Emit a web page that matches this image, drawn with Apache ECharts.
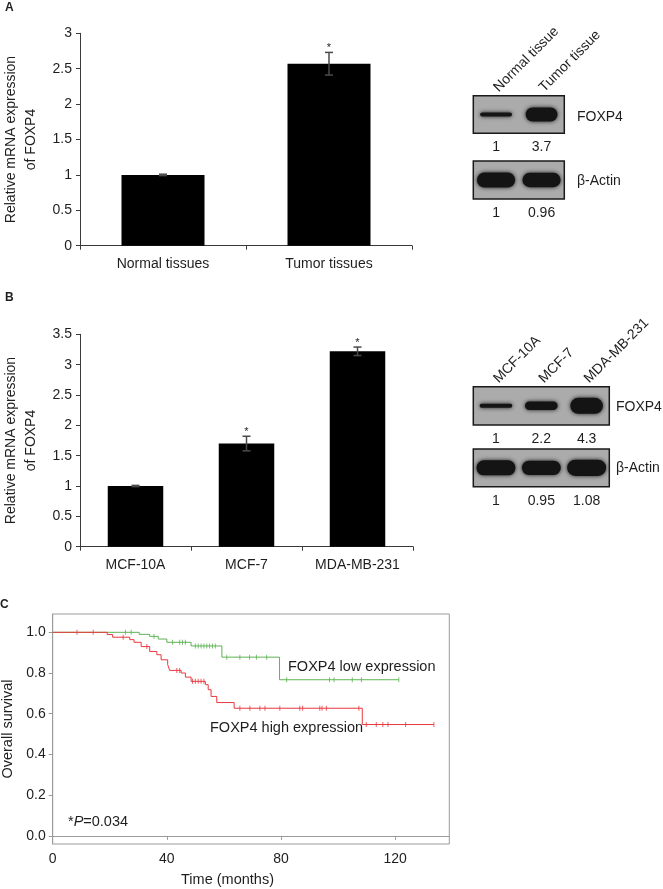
<!DOCTYPE html>
<html><head><meta charset="utf-8">
<script src="https://cdn.jsdelivr.net/npm/echarts@6/dist/echarts.min.js"></script>
<style>html,body{margin:0;padding:0;background:#fff}#c{width:663px;height:889px}</style>
</head><body><div id="c"></div>
<script>
var FONT = 'Liberation Sans, Arial, Helvetica, sans-serif';
var TXT = '#1e1e1e';

// ---- Panel A: qPCR tissues ----
var catsA = ['Normal tissues', 'Tumor tissues'];
var meanA = [1.0, 2.57];
var errA  = [0.01, 0.16];
var sigA  = ['', '*'];

// ---- Panel B: qPCR cell lines ----
var catsB = ['MCF-10A', 'MCF-7', 'MDA-MB-231'];
var meanB = [1.0, 1.70, 3.22];
var errB  = [0.01, 0.12, 0.07];
var sigB  = ['', '*', '*'];

// ---- Western blots ----
var lanesA  = ['Normal tissue', 'Tumor tissue'];
var foxp4A  = [1, 3.7];
var actinA  = [1, 0.96];
var lanesB  = ['MCF-10A', 'MCF-7', 'MDA-MB-231'];
var foxp4B  = [1, 2.2, 4.3];
var actinB  = [1, 0.95, 1.08];

// ---- Panel C: Kaplan-Meier ----
var lowTimes  = [0, 30.3, 34, 37, 40, 48.5, 59.3, 79.5, 121.3];
var lowSurv   = [1.0, 0.99, 0.98, 0.967, 0.951, 0.933, 0.878, 0.767, 0.767];
var lowCensor = [25.5, 27.5, 35.5, 42, 44.5, 45.5, 46.5, 50, 51, 52, 53, 54, 55, 56, 57, 61, 65.6, 69, 71.4, 75, 82, 97, 98.6, 105, 108.2, 121.3];
var highTimes = [0, 19.1, 21, 27, 28.5, 31, 34, 36.5, 38, 40.3, 41, 45, 46.5, 48.5, 53.5, 54.5, 55.5, 57.5, 63.6, 108.5, 133.6];
var highSurv  = [1.0, 0.989, 0.976, 0.964, 0.951, 0.93, 0.906, 0.89, 0.865, 0.841, 0.813, 0.8, 0.78, 0.759, 0.743, 0.718, 0.685, 0.655, 0.627, 0.547, 0.547];
var highCensor = [8.5, 14.2, 24.7, 33, 43.5, 44.5, 49, 50, 51, 52, 53, 65.6, 69.1, 72.6, 74.4, 79.6, 86.6, 87.6, 93.6, 94.4, 95.9, 107.3, 109.9, 113.4, 115.7, 117.5, 123.7, 133.6];
var kmXTicks = [0, 40, 80, 120];
var kmYTicks = [0, 0.2, 0.4, 0.6, 0.8, 1.0];

function zip(a, b) { return a.map(function (v, i) { return [v, b[i]]; }); }
function survAt(times, surv, t) {
  var s = surv[0];
  for (var i = 0; i < times.length; i++) if (times[i] <= t) s = surv[i];
  return s;
}
function errData(mean, err) { return mean.map(function (m, i) { return [i, m - err[i], m + err[i]]; }); }

function errRender(sig) {
  return function (params, api) {
    var x = api.value(0), lo = api.value(1), hi = api.value(2);
    var pH = api.coord([x, hi]), pL = api.coord([x, lo]);
    var c = 4, st = { stroke: '#4a4a4a', lineWidth: 1.5 };
    var ch = [
      { type: 'line', shape: { x1: pH[0], y1: pH[1], x2: pL[0], y2: pL[1] }, style: st },
      { type: 'line', shape: { x1: pH[0] - c, y1: pH[1], x2: pH[0] + c, y2: pH[1] }, style: st },
      { type: 'line', shape: { x1: pL[0] - c, y1: pL[1], x2: pL[0] + c, y2: pL[1] }, style: st }
    ];
    if (sig[params.dataIndex]) {
      ch.push({ type: 'text', style: { text: sig[params.dataIndex], x: pH[0], y: pH[1] + 1, align: 'center', verticalAlign: 'bottom', font: '11px ' + FONT, fill: TXT } });
    }
    return { type: 'group', children: ch };
  };
}

function bandRender(widthFrac, thick) {
  return function (params, api) {
    var c = api.coord([api.value(0), 0.5]);
    var bw = api.size([1, 0])[0];
    var w = bw * widthFrac, h = thick(api.value(1));
    return {
      type: 'rect',
      shape: { x: c[0] - w / 2, y: c[1] - h / 2, width: w, height: h, r: h / 2 },
      style: { fill: '#141414', shadowBlur: 4, shadowColor: 'rgba(0,0,0,0.85)' }
    };
  };
}
var foxThick = function (v) { return 4 * Math.pow(v, 0.95); };
var actThick = function (v) { return 15 * v; };

var axLine = { show: true, lineStyle: { color: '#3a3a3a', width: 1 } };
var lbl = { fontFamily: FONT, fontSize: 14, color: TXT };

function blotX(grid, data, pos, rotate) {
  return {
    type: 'category', gridIndex: grid, data: data, position: pos,
    axisLine: { show: false }, axisTick: { show: false },
    axisLabel: { fontFamily: FONT, fontSize: 14, color: TXT, rotate: rotate || 0, margin: pos === 'top' ? 6 : 7, interval: 0, hideOverlap: false }
  };
}
function blotY(grid) { return { type: 'value', gridIndex: grid, min: 0, max: 1, show: false }; }
function blotGrid(left, top, width, height) {
  return { left: left, top: top, width: width, height: height, outerBoundsMode: 'none', containLabel: false,
    show: true, backgroundColor: '#ababab', borderColor: '#1a1a1a', borderWidth: 1.5 };
}
function laneData(vals) { return vals.map(function (v, i) { return [i, v]; }); }
function fmtNums(vals) { return vals.map(function (v) { return String(v); }); }

var option = {
  animation: false,
  backgroundColor: '#fff',
  textStyle: { fontFamily: FONT },
  grid: [
    { left: 80, top: 33.3, width: 332, height: 212.4, outerBoundsMode: 'none', containLabel: false },
    { left: 80, top: 334.3, width: 333, height: 212.4, outerBoundsMode: 'none', containLabel: false },
    { left: 52.7, top: 614, width: 396.6, height: 230, outerBoundsMode: 'none', containLabel: false,
      show: true, borderColor: '#9a9a9a', borderWidth: 1 },
    blotGrid(473.3, 95.7, 91, 37.6),
    blotGrid(473.3, 161, 91, 38),
    blotGrid(473.3, 386.7, 136, 38.3),
    blotGrid(473.3, 449, 136, 37.7)
  ],
  xAxis: [
    { type: 'category', gridIndex: 0, data: catsA, axisLine: axLine,
      axisTick: { show: true, length: 4, lineStyle: { color: '#3a3a3a' } },
      axisLabel: Object.assign({ margin: 11, interval: 0, hideOverlap: false }, lbl) },
    { type: 'category', gridIndex: 1, data: catsB, axisLine: axLine,
      axisTick: { show: true, length: 4, lineStyle: { color: '#3a3a3a' } },
      axisLabel: Object.assign({ margin: 11, interval: 0, hideOverlap: false }, lbl) },
    { type: 'value', gridIndex: 2, min: 0, max: 139,
      axisLine: { show: true, lineStyle: { color: '#9a9a9a' } },
      axisTick: { show: true, length: 4, lineStyle: { color: '#9a9a9a' }, customValues: kmXTicks },
      axisLabel: Object.assign({ margin: 8, customValues: kmXTicks }, lbl),
      splitLine: { show: false } },
    blotX(3, lanesA, 'top', 45),
    blotX(3, fmtNums(foxp4A), 'bottom'),
    blotX(4, fmtNums(actinA), 'bottom'),
    blotX(5, lanesB, 'top', 45),
    blotX(5, fmtNums(foxp4B), 'bottom'),
    blotX(6, fmtNums(actinB), 'bottom')
  ],
  yAxis: [
    { type: 'value', gridIndex: 0, min: 0, max: 3, interval: 0.5, axisLine: axLine,
      axisTick: { show: true, length: 4, lineStyle: { color: '#3a3a3a' } },
      axisLabel: Object.assign({ margin: 8 }, lbl), splitLine: { show: false },
      name: 'Relative mRNA expression\nof FOXP4', nameLocation: 'middle', nameGap: 36,
      nameTextStyle: { fontFamily: FONT, fontSize: 14, color: TXT, lineHeight: 20 } },
    { type: 'value', gridIndex: 1, min: 0, max: 3.5, interval: 0.5, axisLine: axLine,
      axisTick: { show: true, length: 4, lineStyle: { color: '#3a3a3a' } },
      axisLabel: Object.assign({ margin: 8 }, lbl), splitLine: { show: false },
      name: 'Relative mRNA expression\nof FOXP4', nameLocation: 'middle', nameGap: 36,
      nameTextStyle: { fontFamily: FONT, fontSize: 14, color: TXT, lineHeight: 20 } },
    { type: 'value', gridIndex: 2, min: -0.04, max: 1.09,
      axisLine: { show: true, lineStyle: { color: '#9a9a9a' } },
      axisTick: { show: true, length: 4, lineStyle: { color: '#9a9a9a' }, customValues: kmYTicks },
      axisLabel: Object.assign({ margin: 7, customValues: kmYTicks, formatter: function (v) { return v.toFixed(1); } }, lbl),
      splitLine: { show: false },
      name: 'Overall survival', nameLocation: 'middle', nameGap: 36,
      nameTextStyle: { fontFamily: FONT, fontSize: 14.5, color: TXT } },
    blotY(3), blotY(4), blotY(5), blotY(6)
  ],
  series: [
    { type: 'bar', xAxisIndex: 0, yAxisIndex: 0, data: meanA, barWidth: '50%', itemStyle: { color: '#000' } },
    { type: 'custom', xAxisIndex: 0, yAxisIndex: 0, data: errData(meanA, errA), renderItem: errRender(sigA), z: 5 },
    { type: 'bar', xAxisIndex: 1, yAxisIndex: 1, data: meanB, barWidth: '50%', itemStyle: { color: '#000' } },
    { type: 'custom', xAxisIndex: 1, yAxisIndex: 1, data: errData(meanB, errB), renderItem: errRender(sigB), z: 5 },
    { type: 'line', xAxisIndex: 2, yAxisIndex: 2, data: zip(lowTimes, lowSurv), step: 'end', showSymbol: false,
      lineStyle: { color: '#5fb255', width: 1 }, itemStyle: { color: '#5fb255' } },
    { type: 'line', xAxisIndex: 2, yAxisIndex: 2, data: zip(highTimes, highSurv), step: 'end', showSymbol: false,
      lineStyle: { color: '#e8383f', width: 1 }, itemStyle: { color: '#e8383f' } },
    { type: 'scatter', xAxisIndex: 2, yAxisIndex: 2, symbol: 'rect', symbolSize: [1, 5],
      data: lowCensor.map(function (t) { return [t, survAt(lowTimes, lowSurv, t)]; }), itemStyle: { color: '#5fb255' } },
    { type: 'scatter', xAxisIndex: 2, yAxisIndex: 2, symbol: 'rect', symbolSize: [1, 5],
      data: highCensor.map(function (t) { return [t, survAt(highTimes, highSurv, t)]; }), itemStyle: { color: '#e8383f' } },
    { type: 'custom', xAxisIndex: 3, yAxisIndex: 3, data: laneData(foxp4A), renderItem: bandRender(0.7, foxThick) },
    { type: 'custom', xAxisIndex: 5, yAxisIndex: 4, data: laneData(actinA), renderItem: bandRender(0.84, actThick) },
    { type: 'custom', xAxisIndex: 6, yAxisIndex: 5, data: laneData(foxp4B), renderItem: bandRender(0.72, foxThick) },
    { type: 'custom', xAxisIndex: 8, yAxisIndex: 6, data: laneData(actinB), renderItem: bandRender(0.86, actThick) }
  ],
  graphic: [
    { type: 'text', left: 5, top: 2, style: { text: 'A', font: 'bold 12px ' + FONT, fill: TXT } },
    { type: 'text', left: 5, top: 292, style: { text: 'B', font: 'bold 12px ' + FONT, fill: TXT } },
    { type: 'text', left: 0, top: 599, style: { text: 'C', font: 'bold 12px ' + FONT, fill: TXT } },
    { type: 'text', x: 577, y: 116.7, style: { text: 'FOXP4', font: '14px ' + FONT, fill: TXT, verticalAlign: 'middle' } },
    { type: 'text', x: 577, y: 181, style: { text: 'β-Actin', font: '14px ' + FONT, fill: TXT, verticalAlign: 'middle' } },
    { type: 'text', x: 616, y: 407.3, style: { text: 'FOXP4', font: '14px ' + FONT, fill: TXT, verticalAlign: 'middle' } },
    { type: 'text', x: 616, y: 468.3, style: { text: 'β-Actin', font: '14px ' + FONT, fill: TXT, verticalAlign: 'middle' } },
    { type: 'text', x: 288, y: 667.3, style: { text: 'FOXP4 low expression', font: '14.5px ' + FONT, fill: TXT, verticalAlign: 'middle' } },
    { type: 'text', x: 210, y: 728.3, style: { text: 'FOXP4 high expression', font: '14.5px ' + FONT, fill: TXT, verticalAlign: 'middle' } },
    { type: 'text', x: 68, y: 821.7, style: { text: '{a|*}{i|P}{a|=0.034}', verticalAlign: 'middle',
        rich: { a: { font: '14.5px ' + FONT, fill: TXT }, i: { font: 'italic 14.5px ' + FONT, fill: TXT } } } },
    { type: 'text', x: 227.5, y: 880, style: { text: 'Time (months)', font: '14.5px ' + FONT, fill: TXT, align: 'center', verticalAlign: 'middle' } }
  ]
};

var chart = echarts.init(document.getElementById('c'), null, { renderer: 'canvas' });
chart.setOption(option);
</script>
</body></html>
